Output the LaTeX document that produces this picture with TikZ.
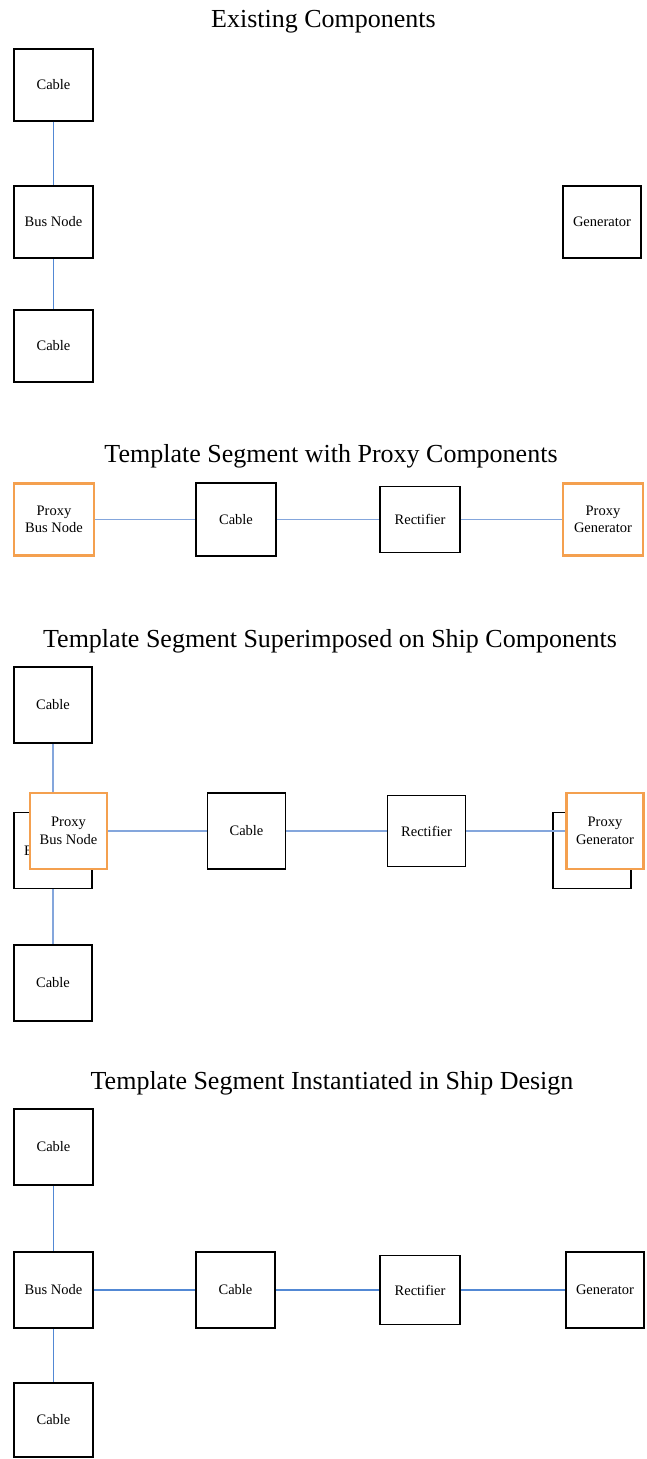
\documentclass[tikz,border=0pt]{standalone}
\usepackage{fontspec}
\setmainfont{Liberation Serif}
\definecolor{edgeblue}{HTML}{5288D4}
\definecolor{lightblue}{HTML}{84A6DC}
\definecolor{proxyorange}{HTML}{F4A04F}
\tikzset{
  part/.style={draw=black, line width=1.8pt, fill=white, inner sep=0pt,
    minimum width=79pt, minimum height=72pt, align=center,
    font=\fontsize{14.5}{17.5}\selectfont},
  proxy/.style={part, draw=proxyorange, line width=2.2pt},
  heading/.style={anchor=base, inner sep=0pt, font=\fontsize{26}{30}\selectfont},
  wire/.style={draw=edgeblue, line width=1.1pt},
  lwire/.style={draw=lightblue, line width=1.5pt}
}
\begin{document}
\begin{tikzpicture}[x=1pt,y=-1pt]
\useasboundingbox (0,0) rectangle (647,1459);

% ---- Existing components ----
\node[heading] (t1) at (323.5,27) {Existing Components};
\node[part] (a1) at (53.5,85) {Cable};
\node[part] (a2) at (53.5,222) {Bus Node};
\node[part] (a3) at (53.5,346) {Cable};
\node[part, minimum width=78pt] (a4) at (602,222) {Generator};
\draw[wire] (a1) -- (a2);
\draw[wire] (a2) -- (a3);

% ---- Template segment with proxy components ----
\node[heading] (t2) at (331,462) {Template Segment with Proxy Components};
\node[proxy, minimum width=80pt] (b1) at (54,519.5) {Proxy\\Bus Node};
\node[part, minimum width=80pt, minimum height=73pt] (b2) at (236,519.5) {Cable};
\node[part, minimum width=80pt, minimum height=66pt] (b3) at (420,519.5) {Rectifier};
\node[proxy, minimum width=80pt] (b4) at (603,519.5) {Proxy\\Generator};
\draw[lwire] (b1) -- (b2);
\draw[lwire] (b2) -- (b3);
\draw[lwire] (b3) -- (b4);

% ---- Template segment superimposed on ship components ----
\node[heading] (t3) at (330,647) {Template Segment Superimposed on Ship Components};
\node[part, minimum width=78pt, minimum height=76pt] (c1) at (53,705) {Cable};
\node[part, minimum width=78pt, minimum height=76pt] (c2) at (53,850.5) {Bus Node};
\node[part, minimum width=78pt, minimum height=76pt] (c8) at (53,983) {Cable};
\node[part, minimum width=78pt, minimum height=76pt] (c6) at (592,850.5) {};
\draw[lwire] (c1) -- (c2);
\draw[lwire] (c2) -- (c8);
\node[proxy, minimum width=77pt, minimum height=76pt] (c3) at (68.5,831) {Proxy\\Bus Node};
\node[part, minimum width=78pt, minimum height=76pt] (c4) at (246.5,831) {Cable};
\node[part, minimum width=78pt, minimum height=71pt] (c5) at (426.5,831) {Rectifier};
\node[proxy, minimum width=77pt, minimum height=76pt] (c7) at (605,831) {Proxy\\Generator};
\draw[lwire] (c3) -- (c4);
\draw[lwire] (c4) -- (c5);
\draw[lwire] (c5) -- (c7);

% ---- Template segment instantiated in ship design ----
\node[heading] (t4) at (332,1089) {Template Segment Instantiated in Ship Design};
\node[part, minimum height=76pt] (d1) at (53.5,1147) {Cable};
\node[part, minimum height=76pt] (d2) at (53.5,1290) {Bus Node};
\node[part, minimum height=76pt] (d3) at (235.5,1290) {Cable};
\node[part, minimum width=80pt, minimum height=69pt] (d4) at (420,1290) {Rectifier};
\node[part, minimum width=78pt, minimum height=76pt] (d5) at (605,1290) {Generator};
\node[part, minimum height=74pt] (d6) at (53.5,1420) {Cable};
\draw[wire] (d1) -- (d2);
\draw[wire] (d2) -- (d6);
\draw[wire] (d2) -- (d3);
\draw[wire] (d3) -- (d4);
\draw[wire] (d4) -- (d5);
\end{tikzpicture}
\end{document}
